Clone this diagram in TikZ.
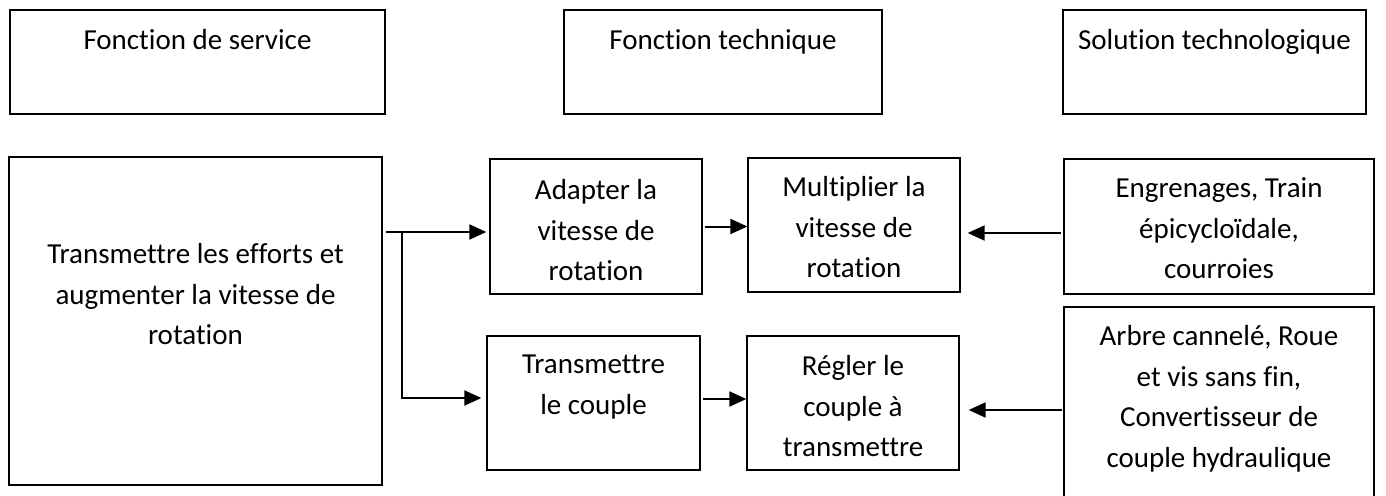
\documentclass[tikz,border=0pt]{standalone}
\usepackage{fontspec}
\setmainfont{Carlito}[Ligatures=CommonOff]
\usetikzlibrary{arrows.meta}
\begin{document}
\begin{tikzpicture}[x=1pt,y=-1pt,
  box/.style={draw=black,line width=1.3pt,inner sep=0pt},
  lbl/.style={font=\fontsize{29}{40.5}\selectfont,align=center,inner sep=0pt,anchor=north},
  arr/.style={line width=2pt,-{Triangle[length=17pt,width=15pt]}}]
\useasboundingbox (0,0) rectangle (1386,495);
\clip (0,0) rectangle (1386,495);
% boxes
\node[box,minimum width=375pt,minimum height=104pt] (fs) at (197.5,62) {};
\node[box,minimum width=318pt,minimum height=104pt] (ft) at (723,62) {};
\node[box,minimum width=303pt,minimum height=104pt] (st) at (1214.5,62) {};
\node[box,minimum width=373pt,minimum height=328pt] (big) at (195.5,321) {};
\node[box,minimum width=212pt,minimum height=135pt] (ad) at (596,226.5) {};
\node[box,minimum width=212pt,minimum height=134pt] (mu) at (854,225) {};
\node[box,minimum width=310pt,minimum height=135pt] (en) at (1219,226.5) {};
\node[box,minimum width=213pt,minimum height=134pt] (tr) at (593.5,403) {};
\node[box,minimum width=212pt,minimum height=134pt] (re) at (853,403) {};
\node[box,minimum width=310pt,minimum height=213pt] (ar) at (1219,413.5) {};
% labels
\node[lbl] (tfs) at (197.5,21) {\strut Fonction de service};
\node[lbl] (tft) at (723,21) {\strut Fonction technique};
\node[lbl] (tst) at (1214.5,21) {\strut Solution technologique};
\node[lbl] (tbig) at (195.5,235) {\strut Transmettre les efforts et\\augmenter la vitesse de\\rotation};
\node[lbl] (tad) at (596,171) {\strut Adapter la\\vitesse de\\rotation};
\node[lbl] (tmu) at (854,168) {\strut Multiplier la\\vitesse de\\rotation};
\node[lbl] (ten) at (1219,169) {\strut Engrenages, Train\\épicycloïdale,\\courroies};
\node[lbl] (ttr) at (593.5,345) {\strut Transmettre\\le couple};
\node[lbl] (tre) at (853,347) {\strut Régler le\\couple à\\transmettre};
\node[lbl] (tar) at (1219,317) {\strut Arbre cannelé, Roue\\et vis sans fin,\\Convertisseur de\\couple hydraulique};
% connectors
\coordinate (s1) at (386,232);
\coordinate (b1) at (402,232);
\coordinate (b2) at (402,398);
\draw[arr,shorten >=3pt] (s1) -- (s1 -| ad.west);
\draw[arr,shorten >=5pt] (b1) -- (b2) -- (b2 -| tr.west);
\draw[arr,shorten <=2pt] (ad.east) -- (ad.east -| mu.west);
\draw[arr,shorten <=2pt] ([yshift=4pt]tr.east) -- ([yshift=4pt]tr.east -| re.west);
\draw[arr,shorten <=2pt,shorten >=7pt] ([yshift=-6.5pt]en.west) -- ([yshift=-6.5pt]en.west -| mu.east);
\draw[arr,shorten <=1pt,shorten >=9pt] ([yshift=-7pt]re.east -| ar.west) -- ([yshift=-7pt]re.east);
\end{tikzpicture}
\end{document}
